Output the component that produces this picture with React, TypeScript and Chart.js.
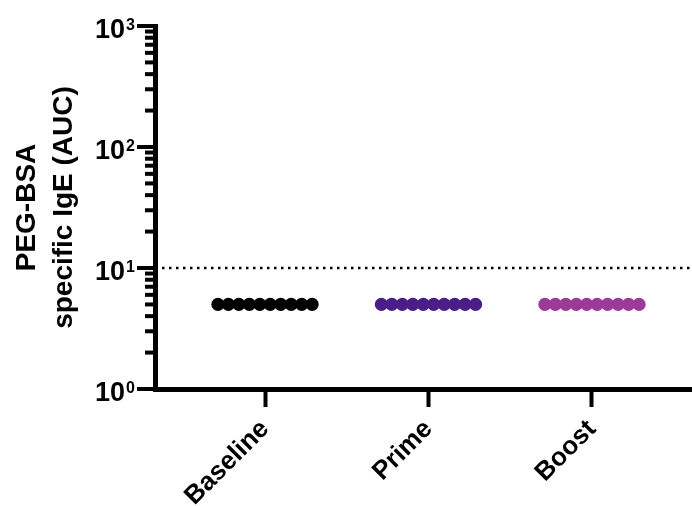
import React, { useEffect, useRef } from "react";
import { Chart, registerables } from "chart.js";

Chart.register(...registerables);

const categories = ["Baseline", "Prime", "Boost"];
const baselineValues = [5, 5, 5, 5, 5, 5, 5, 5, 5, 5];
const primeValues = [5, 5, 5, 5, 5, 5, 5, 5, 5, 5];
const boostValues = [5, 5, 5, 5, 5, 5, 5, 5, 5, 5];
const thresholdValue = 10;
const yTickExponents = [0, 1, 2, 3];
const yTitleLines = ["PEG-BSA", "specific IgE (AUC)"];

const seriesColors = ["#000000", "#4B1E87", "#9C3B97"];
const X_MIN = -0.673;
const X_MAX = 2.612;
const SPREAD = 0.064;
const FONT = '"Liberation Sans", Arial, Helvetica, sans-serif';

function toPoints(values: number[], groupIndex: number) {
  const n = values.length;
  return values.map((v, j) => ({ x: groupIndex + (j - (n - 1) / 2) * SPREAD, y: v }));
}

const yAxisPlugin = {
  id: "yAxisDecor",
  afterDraw(chart: any) {
    const ctx = chart.ctx;
    const y = chart.scales.y;
    const left = chart.chartArea.left;
    ctx.save();
    ctx.strokeStyle = "#000";
    ctx.lineWidth = 4;
    for (let e = 0; e <= 3; e++) {
      for (let m = 1; m <= 9; m++) {
        const v = m * Math.pow(10, e);
        if (v > 1000) break;
        const py = y.getPixelForValue(v);
        const len = m === 1 ? 18 : 10;
        ctx.beginPath();
        ctx.moveTo(left - len, py);
        ctx.lineTo(left, py);
        ctx.stroke();
      }
    }
    ctx.fillStyle = "#000";
    yTickExponents.forEach((e) => {
      const py = y.getPixelForValue(Math.pow(10, e));
      ctx.font = `bold 27px ${FONT}`;
      ctx.textAlign = "right";
      ctx.textBaseline = "alphabetic";
      ctx.fillText("10", 125, py + 12);
      ctx.font = `bold 16px ${FONT}`;
      ctx.textAlign = "left";
      ctx.fillText(String(e), 126, py + 4);
    });
    const cy = (chart.chartArea.top + chart.chartArea.bottom) / 2;
    ctx.font = `bold 28px ${FONT}`;
    ctx.textAlign = "center";
    ctx.textBaseline = "middle";
    const xs = [27, 64];
    yTitleLines.forEach((line, i) => {
      ctx.save();
      ctx.translate(xs[i], cy);
      ctx.rotate(-Math.PI / 2);
      ctx.fillText(line, 0, 0);
      ctx.restore();
    });
    ctx.restore();
  },
};

export default function App() {
  const ref = useRef<HTMLCanvasElement | null>(null);
  useEffect(() => {
    if (!ref.current) return;
    const groups = [baselineValues, primeValues, boostValues];
    const chart = new Chart(ref.current, {
      type: "scatter",
      data: {
        datasets: [
          {
            type: "line",
            label: "threshold",
            data: [
              { x: X_MIN, y: thresholdValue },
              { x: X_MAX, y: thresholdValue },
            ],
            borderColor: "#000",
            borderWidth: 2.5,
            borderDash: [2.5, 4.5],
            pointRadius: 0,
            order: 2,
          } as any,
          ...groups.map((vals, i) => ({
            label: categories[i],
            data: toPoints(vals, i),
            backgroundColor: seriesColors[i],
            borderColor: seriesColors[i],
            borderWidth: 0,
            pointRadius: 6.6,
            pointHoverRadius: 6.6,
            order: 1,
          })),
        ],
      },
      options: {
        animation: false,
        responsive: false,
        events: [],
        layout: { autoPadding: false, padding: { top: 26, right: 0, left: 0, bottom: 0 } },
        plugins: { legend: { display: false }, tooltip: { enabled: false } },
        scales: {
          x: {
            type: "linear",
            min: X_MIN,
            max: X_MAX,
            afterBuildTicks: (scale: any) => {
              scale.ticks = categories.map((_, i) => ({ value: i }));
            },
            afterFit: (scale: any) => {
              scale.height = 117;
              scale.paddingLeft = 0;
              scale.paddingRight = 0;
            },
            ticks: {
              callback: (v: any) => categories[Math.round(Number(v))] ?? "",
              font: { family: FONT, size: 26, weight: "bold" },
              color: "#000",
              maxRotation: 45,
              minRotation: 45,
              padding: 7,
              autoSkip: false,
            },
            grid: {
              drawOnChartArea: false,
              drawTicks: true,
              tickLength: 18,
              tickWidth: 4,
              tickColor: "#000",
            },
            border: { display: true, width: 5, color: "#000" },
          },
          y: {
            type: "logarithmic",
            min: 1,
            max: 1000,
            afterFit: (scale: any) => {
              scale.width = 155;
              scale.paddingTop = 0;
              scale.paddingBottom = 0;
            },
            ticks: { display: false },
            grid: { display: false },
            border: { display: true, width: 5, color: "#000" },
          },
        },
      },
      plugins: [yAxisPlugin],
    } as any);
    return () => chart.destroy();
  }, []);
  return (
    <div style={{ position: "fixed", left: 0, top: 0, width: 692, height: 506, background: "#fff" }}>
      <canvas ref={ref} width={692} height={506} />
    </div>
  );
}
